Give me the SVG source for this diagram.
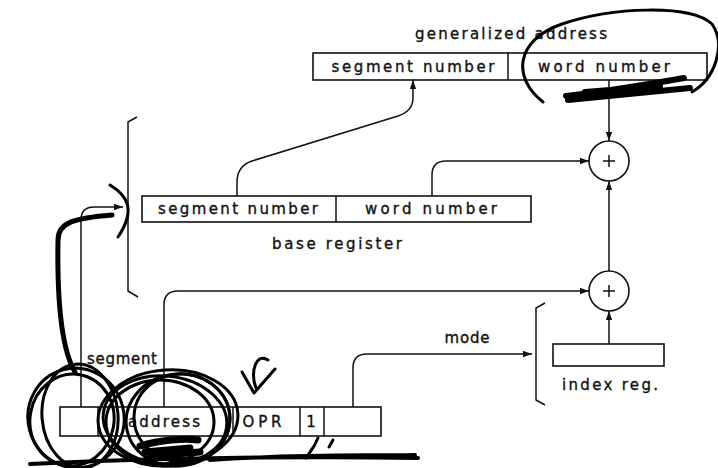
<svg xmlns="http://www.w3.org/2000/svg" width="718" height="468" viewBox="0 0 718 468">
<style>
.box{fill:#fff;stroke:#111;stroke-width:1.6}
.ln{fill:none;stroke:#111;stroke-width:1.5}
.t{font-family:"DejaVu Sans","Liberation Sans",sans-serif;font-size:15px;fill:#111;stroke:#111;stroke-width:0.35;text-anchor:middle}
.sc{fill:none;stroke:#000;stroke-linecap:round;stroke-linejoin:round}
</style>
<defs>
<marker id="ah" viewBox="0 0 10 10" refX="10" refY="5" markerWidth="9" markerHeight="9" markerUnits="userSpaceOnUse" orient="auto">
<path d="M0 1.5 L10 5 L0 8.5 Z" fill="#111"/>
</marker>
</defs>
<rect width="718" height="468" fill="#fff"/>

<g id="generalized-address">
<text class="t" x="511" y="39" textLength="192" lengthAdjust="spacing">generalized address</text>
<rect class="box" x="313" y="53" width="394" height="27"/>
<line class="ln" x1="508" y1="53" x2="508" y2="80"/>
<text class="t" x="413" y="72" textLength="163" lengthAdjust="spacing">segment number</text>
<text class="t" x="604" y="72" textLength="132" lengthAdjust="spacing">word number</text>
</g>

<g id="base-register">
<rect class="box" x="142" y="196" width="389" height="26"/>
<line class="ln" x1="336" y1="196" x2="336" y2="222"/>
<text class="t" x="238" y="214" textLength="160" lengthAdjust="spacing">segment number</text>
<text class="t" x="431" y="214" textLength="132" lengthAdjust="spacing">word number</text>
<text class="t" x="337" y="249" textLength="130" lengthAdjust="spacing">base register</text>
<path class="ln" d="M137 117 L128 122 V291 L138 297"/>
</g>

<g id="adder-1">
<circle class="box" cx="609" cy="161" r="20"/>
<path class="ln" d="M603 161 H615 M609 155 V167"/>
</g>

<g id="adder-2">
<circle class="box" cx="609" cy="291" r="20"/>
<path class="ln" d="M603 291 H615 M609 285 V297"/>
</g>

<g id="index-reg">
<rect class="box" x="553" y="344" width="111" height="22"/>
<text class="t" x="610" y="390" textLength="96" lengthAdjust="spacing">index reg.</text>
<path class="ln" d="M545 303 L536 308 V400 L545 405"/>
</g>

<g id="instruction">
<rect class="box" x="60" y="407" width="321" height="29"/>
<line class="ln" x1="98" y1="407" x2="98" y2="436"/>
<line class="ln" x1="233" y1="407" x2="233" y2="436"/>
<line class="ln" x1="300" y1="407" x2="300" y2="436"/>
<line class="ln" x1="324" y1="407" x2="324" y2="436"/>
<text class="t" x="164" y="427" textLength="72" lengthAdjust="spacing">address</text>
<text class="t" x="262" y="427" textLength="39" lengthAdjust="spacing">OPR</text>
<text class="t" x="311" y="427">1</text>
</g>

<g id="connectors">
<path class="ln" d="M237 196 V182 Q237 166 252 161 L398 116 Q413 111 413 98 V80" marker-end="url(#ah)"/>
<path class="ln" d="M432 196 V175 Q432 161 446 161 H589" marker-end="url(#ah)"/>
<path class="ln" d="M609 80 V141" marker-end="url(#ah)"/>
<path class="ln" d="M609 271 V181" marker-end="url(#ah)"/>
<path class="ln" d="M609 344 V311" marker-end="url(#ah)"/>
<path class="ln" d="M164 407 V305 Q164 291 178 291 H589" marker-end="url(#ah)"/>
<path class="ln" d="M353 407 V368 Q353 354 367 354 H532" marker-end="url(#ah)"/>
<path class="ln" d="M81 407 V220 Q81 207 94 207 H123" marker-end="url(#ah)"/>
<text class="t" x="122" y="364" textLength="70" lengthAdjust="spacing">segment</text>
<text class="t" x="467" y="343" textLength="45" lengthAdjust="spacing">mode</text>
</g>

<g id="scribbles">
<path class="sc" stroke-width="3" d="M543 102 C512 78 515 40 562 24 C612 7 690 4 712 24 C726 44 716 78 692 92"/>
<path class="sc" stroke-width="6" d="M566 96 C600 92 650 84 684 78 M568 100 C610 96 650 92 690 88 M585 92 L660 86"/>
<path class="sc" stroke-width="3" d="M110 185 C128 196 136 210 118 237"/>
<path class="sc" stroke-width="5" d="M75 372 C62 350 57 300 58 240 C58 222 75 218 112 215"/>
<g stroke-width="3" class="sc">
<ellipse cx="76" cy="418" rx="48" ry="50" transform="rotate(-15 76 418)"/>
<ellipse cx="72" cy="420" rx="42" ry="46" transform="rotate(10 72 420)"/>
<ellipse cx="80" cy="416" rx="38" ry="52" transform="rotate(-5 80 416)"/>
<ellipse cx="168" cy="418" rx="70" ry="48" transform="rotate(-4 168 418)"/>
<ellipse cx="165" cy="420" rx="62" ry="44" transform="rotate(6 165 420)"/>
<ellipse cx="160" cy="422" rx="54" ry="42"/>
<ellipse cx="178" cy="420" rx="52" ry="46" transform="rotate(-8 178 420)"/>
<ellipse cx="182" cy="418" rx="48" ry="44" transform="rotate(5 182 418)"/>
</g>
<path class="sc" stroke-width="7" d="M140 446 C160 440 185 438 198 440 M145 452 L190 448 M150 456 L200 452"/>
<path class="sc" stroke-width="4" d="M30 464 C150 458 300 456 418 458 M210 460 C300 454 360 456 415 455"/>
<path class="sc" stroke-width="3" d="M242 372 L254 393 L275 369 M268 360 C256 352 250 372 256 388"/>
<path class="sc" stroke-width="3" d="M318 438 C314 448 310 452 306 458 M329 447 L333 440"/>
</g>
</svg>
